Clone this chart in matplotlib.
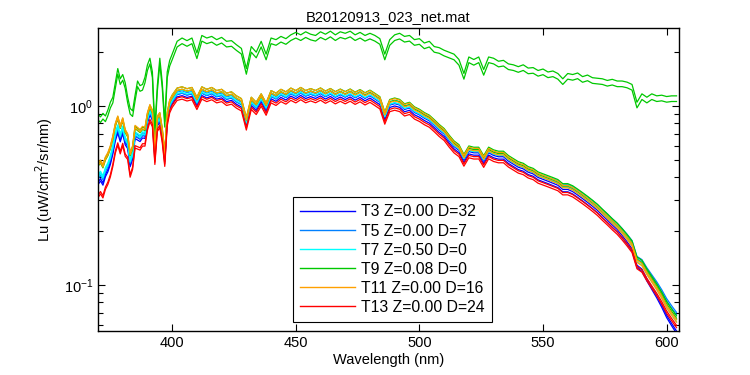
import numpy as np
import matplotlib
matplotlib.use("Agg")
import matplotlib.pyplot as plt
from matplotlib.ticker import FixedLocator, LogLocator, NullFormatter, NullLocator

plt.rcParams['font.family'] = ['Liberation Sans', 'DejaVu Sans']

# wavelength grid (nm): 1 nm below 400, 2 nm above
wavelength = np.concatenate([np.arange(370, 400), np.arange(400, 606, 2)])

# T9 casts that sit far above the rest (upper trace of the pair)
lu_t9_high = [
    0.90, 0.87, 0.91, 0.88, 0.95, 1.05, 1.12, 1.35, 1.62, 1.42,
    1.50, 1.35, 1.12, 0.97, 0.94, 1.15, 1.38, 1.30, 1.32, 1.45,
    1.70, 1.85, 1.55, 0.75, 1.30, 1.85, 1.35, 0.82, 1.55, 1.80,
    1.95, 2.30, 2.40, 2.32, 2.40, 1.98, 2.48, 2.40, 2.45, 2.35,
    2.42, 2.30, 2.32, 2.20, 2.10, 1.62, 2.15, 2.00, 2.30, 1.95,
    2.40, 2.35, 2.45, 2.38, 2.50, 2.58, 2.50, 2.60, 2.52, 2.48,
    2.60, 2.52, 2.62, 2.50, 2.60, 2.55, 2.62, 2.50, 2.58, 2.48,
    2.55, 2.48, 2.38, 1.95, 2.35, 2.50, 2.55, 2.45, 2.48, 2.35,
    2.38, 2.25, 2.30, 2.15, 2.12, 2.05, 2.00, 1.95, 1.82, 1.52,
    1.88, 1.82, 1.88, 1.60, 1.88, 1.85, 1.78, 1.80, 1.72, 1.70,
    1.66, 1.70, 1.63, 1.64, 1.58, 1.61, 1.55, 1.57, 1.52, 1.42,
    1.52, 1.50, 1.53, 1.46, 1.49, 1.44, 1.43, 1.42, 1.39, 1.41,
    1.38, 1.38, 1.36, 1.32, 1.05, 1.17, 1.12, 1.17, 1.14, 1.15,
    1.13, 1.14, 1.14,
]

# main bundle, read along the T11 (orange) trace
lu_t11 = [
    0.48, 0.50, 0.47, 0.52, 0.55, 0.60, 0.68, 0.80, 0.88, 0.78,
    0.86, 0.74, 0.70, 0.55, 0.60, 0.78, 0.76, 0.74, 0.77, 0.76,
    0.92, 1.02, 0.95, 0.58, 0.88, 0.92, 0.75, 0.55, 0.92, 1.08,
    1.15, 1.26, 1.28, 1.25, 1.27, 1.12, 1.28, 1.24, 1.27, 1.22,
    1.24, 1.18, 1.20, 1.14, 1.10, 0.86, 1.12, 1.05, 1.17, 1.04,
    1.22, 1.18, 1.24, 1.20, 1.26, 1.22, 1.27, 1.22, 1.25, 1.22,
    1.26, 1.21, 1.25, 1.20, 1.24, 1.20, 1.24, 1.19, 1.23, 1.18,
    1.22, 1.17, 1.12, 0.92, 1.08, 1.10, 1.08, 1.02, 1.04, 0.98,
    0.95, 0.91, 0.88, 0.83, 0.78, 0.74, 0.68, 0.63, 0.60, 0.53,
    0.59, 0.58, 0.58, 0.52, 0.58, 0.56, 0.55, 0.55, 0.52, 0.50,
    0.48, 0.47, 0.45, 0.44, 0.42, 0.41, 0.40, 0.39, 0.38, 0.36,
    0.36, 0.35, 0.335, 0.32, 0.305, 0.29, 0.275, 0.258, 0.243, 0.228,
    0.215, 0.20, 0.185, 0.17, 0.138, 0.132, 0.118, 0.107, 0.097, 0.087,
    0.077, 0.070, 0.064,
]

# ratio of each station to the T11 trace, read at a few wavelengths
ratio_wl = [370, 380, 390, 400, 450, 500, 550, 580, 590, 600, 605]
ratio_t3 = [0.78, 0.84, 0.90, 0.92, 0.93, 0.94, 0.95, 0.95, 0.93, 0.88, 0.86]
ratio_t5 = [0.84, 0.88, 0.93, 0.95, 0.96, 0.98, 1.00, 1.03, 1.05, 1.09, 1.10]
ratio_t7 = [0.86, 0.90, 0.94, 0.96, 0.97, 0.98, 1.00, 1.01, 1.01, 1.00, 1.00]
ratio_t9 = [0.99, 0.99, 0.99, 1.00, 1.00, 1.01, 1.02, 1.03, 1.04, 1.05, 1.05]
ratio_t11 = [1.00] * 11
ratio_t13 = [0.66, 0.72, 0.82, 0.88, 0.88, 0.89, 0.91, 0.92, 0.92, 0.93, 0.93]

# repeat scans per station (relative level)
scan_levels = [1.00, 0.97]
high_scan_levels = [1.00, 0.93]

labels = ["T3 Z=0.00 D=32", "T5 Z=0.00 D=7", "T7 Z=0.50 D=0",
          "T9 Z=0.08 D=0", "T11 Z=0.00 D=16", "T13 Z=0.00 D=24"]
colors = ["#0000ff", "#0080ff", "#00ffff", "#00c800", "#ffa000", "#ff0000"]
ratios = [ratio_t3, ratio_t5, ratio_t7, ratio_t9, ratio_t11, ratio_t13]

fig = plt.figure(figsize=(7.5, 3.75), dpi=100)
ax = fig.add_axes([98 / 750, 44 / 375, 581 / 750, 303 / 375])

base = np.array(lu_t11)
for lab, col, rat in zip(labels, colors, ratios):
    r = np.interp(wavelength, ratio_wl, rat)
    for k, s in enumerate(scan_levels):
        ax.plot(wavelength, base * r * s, color=col, lw=0.9,
                label=lab if k == 0 else None)
    if lab.startswith("T9"):
        for s in high_scan_levels:
            ax.plot(wavelength, np.array(lu_t9_high) * s, color=col, lw=0.9)

ax.set_yscale('log')
ax.set_xlim(370, 605)
ax.set_ylim(0.0553, 2.73)
ax.xaxis.set_major_locator(FixedLocator([400, 450, 500, 550, 600]))
ax.xaxis.set_minor_locator(NullLocator())
ax.yaxis.set_major_locator(LogLocator(base=10))
ax.yaxis.set_minor_locator(LogLocator(base=10, subs=np.arange(2, 10)))
ax.yaxis.set_minor_formatter(NullFormatter())
ax.tick_params(which='both', direction='in', top=True, right=True,
               labelsize=10.5, width=0.8)
ax.tick_params(which='major', length=5)
ax.tick_params(which='minor', length=3.5)
for sp in ax.spines.values():
    sp.set_linewidth(1.0)

ax.set_title("B20120913_023_net.mat", fontsize=10.5, pad=5)
ax.set_xlabel("Wavelength (nm)", fontsize=10.5, labelpad=2)
ax.set_ylabel("Lu (uW/cm$^2$/sr/nm)", fontsize=10.5, labelpad=6)

leg = ax.legend(loc='lower left', bbox_to_anchor=(0.336, 0.03), fontsize=11.3,
                frameon=True, fancybox=False, framealpha=1, edgecolor='black',
                handlelength=3.5, handletextpad=0.4, labelspacing=0.26,
                borderpad=0.45, borderaxespad=0)
leg.get_frame().set_linewidth(0.8)
for h in leg.get_lines():
    h.set_linewidth(1.0)

fig.savefig("out.png", dpi=100)
